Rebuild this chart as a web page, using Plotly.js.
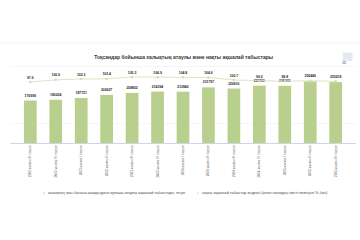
<!DOCTYPE html>
<html><head><meta charset="utf-8">
<script src="https://cdn.plot.ly/plotly-3.0.1.min.js"></script>
<style>html,body{margin:0;padding:0;background:#fff}#c{width:360px;height:240px}</style>
</head><body><div id="c"></div>
<script>
const categories = [
  "2022 жылғы III тоқсан","2022 жылғы IV тоқсан","2023 жылғы I тоқсан","2023 жылғы II тоқсан",
  "2023 жылғы III тоқсан","2023 жылғы IV тоқсан","2024 жылғы I тоқсан","2024 жылғы II тоқсан",
  "2024 жылғы III тоқсан","2024 жылғы IV тоқсан","2025 жылғы I тоқсан","2025 жылғы II тоқсан",
  "2025 жылғы III тоқсан"
];
const nominalIncome = [176999,180204,187721,200627,208852,214394,213840,231797,226910,238851,238422,256446,253618];
const realIndex = [97.6,100.9,102.3,102.4,105.3,104.9,104.8,104.6,100.7,99.2,98.8,99.5,98.6];
const realLabels = ["97.6","100.9","102.3","102.4","105.3","104.9","104.8","104.6","100.7","99.2","98.8","",""];
const seriesNames = [
  "халықтың жан басына шаққандағы орташа атаулы ақшалай табыстары, теңге",
  "нақты ақшалай табыстар индексі (өткен жылдың тиісті кезеңіне %-бен)"
];
const titleText = "Тоқсандар бойынша халықтың атаулы және нақты ақшалай табыстары";

const font = "Liberation Sans, Arial, sans-serif";
const barColor = "#b9cf8e", lineColor = "#d5dcb4";
const traces = [
  {type:"bar", x:categories, y:nominalIncome, name:seriesNames[0],
   marker:{color:barColor}, text:nominalIncome.map(String), textposition:"outside",
   textfont:{size:3.4, color:"#222", family:font, weight:"bold"}, cliponaxis:false, hoverinfo:"skip"},
  {type:"scatter", mode:"lines+markers+text", x:categories, y:realIndex, yaxis:"y2", name:seriesNames[1],
   line:{color:lineColor, width:0.8}, marker:{color:lineColor, size:2.5},
   text:realLabels, textposition:"top center", textfont:{size:3.4, color:"#222", family:font, weight:"bold"},
   cliponaxis:false, hoverinfo:"skip"}
];
const legendY = -0.67;
const layout = {
  width:360, height:240, margin:{l:10, r:4, t:62, b:97},
  paper_bgcolor:"#fff", plot_bgcolor:"#fff",
  font:{family:font, size:4, color:"#666"},
  title:{text:titleText, font:{size:5, color:"#333", family:font, weight:"bold"}, x:0.51, xanchor:"center", y:0.762, yanchor:"middle"},
  bargap:0.5,
  showlegend:false,
  xaxis:{tickangle:-90, tickfont:{size:3.2, color:"#666"}, showline:true, linecolor:"#ccd6eb", linewidth:1, ticks:"", showgrid:false, fixedrange:true},
  yaxis:{range:[0,337500], tickvals:[80000,320000], showticklabels:false, gridcolor:"#f0f0f0", gridwidth:0.6, zeroline:false, fixedrange:true},
  yaxis2:{range:[3.75,128.4], overlaying:"y", side:"right", showticklabels:false, showgrid:false, zeroline:false, fixedrange:true},
  shapes:[
    {type:"line", xref:"paper", yref:"paper", x0:-0.05, x1:1.02, y0:1.235, y1:1.235, line:{color:"#f0f0f0", width:0.6}},
    {type:"rect", xref:"paper", yref:"paper", x0:0.962, x1:0.99, y0:1.015, y1:1.115, fillcolor:"#e4e8f4", line:{width:0}}
  ],
  annotations:[
    {text:"≡", xref:"paper", yref:"paper", x:0.976, y:1.065, showarrow:false, font:{size:7, color:"#5d6aa6"}},
    {text:"●", xref:"paper", yref:"paper", x:0.09, y:legendY, xanchor:"left", showarrow:false, font:{size:3.5, color:barColor}},
    {text:seriesNames[0], xref:"paper", yref:"paper", x:0.105, y:legendY, xanchor:"left", showarrow:false, font:{size:3.8, color:"#444"}},
    {text:"●", xref:"paper", yref:"paper", x:0.535, y:legendY, xanchor:"left", showarrow:false, font:{size:3.5, color:lineColor}},
    {text:seriesNames[1], xref:"paper", yref:"paper", x:0.55, y:legendY, xanchor:"left", showarrow:false, font:{size:3.8, color:"#444"}}
  ]
};
Plotly.newPlot("c", traces, layout, {displayModeBar:false, staticPlot:true});
</script></body></html>
